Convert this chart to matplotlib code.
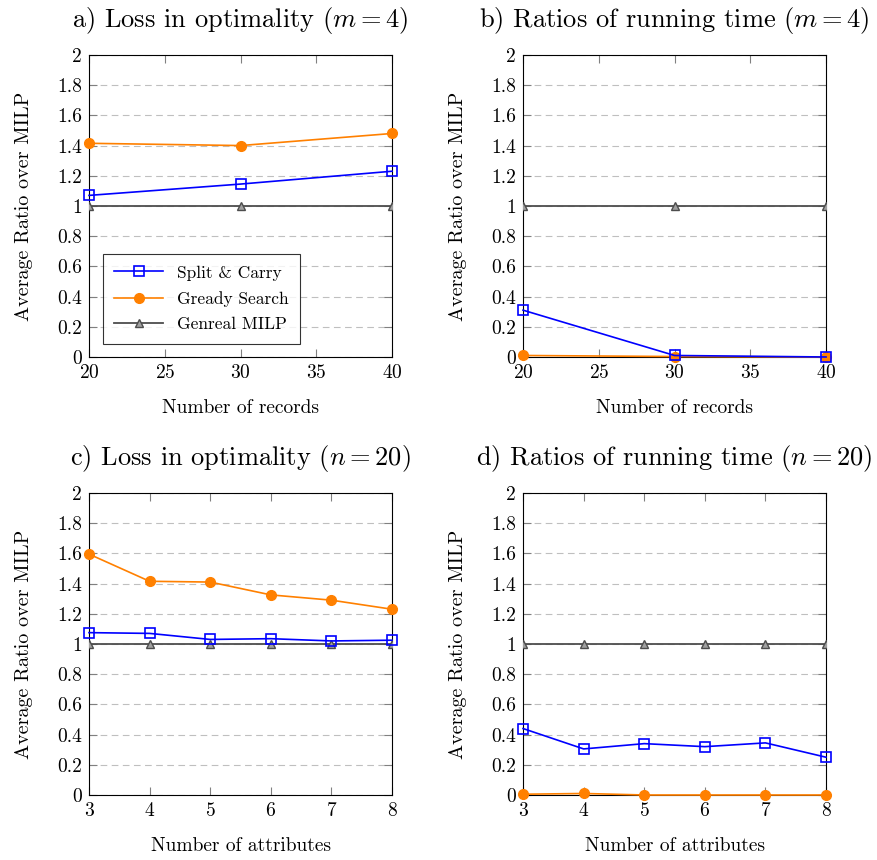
import matplotlib
matplotlib.use('Agg')
import matplotlib.pyplot as plt
import numpy as np

plt.rcParams['font.family'] = 'cmr10'
plt.rcParams['mathtext.fontset'] = 'cm'
plt.rcParams['axes.formatter.use_mathtext'] = True

records = [20, 30, 40]
attributes = [3, 4, 5, 6, 7, 8]

# loss in optimality, m = 4
loss_m_split = [1.07, 1.145, 1.23]
loss_m_greedy = [1.415, 1.40, 1.48]
loss_m_milp = [1, 1, 1]

# running time ratios, m = 4
time_m_split = [0.31, 0.01, 0.0]
time_m_greedy = [0.01, 0.003, 0.0]
time_m_milp = [1, 1, 1]

# loss in optimality, n = 20
loss_n_split = [1.075, 1.07, 1.03, 1.035, 1.02, 1.025]
loss_n_greedy = [1.595, 1.415, 1.41, 1.325, 1.29, 1.23]
loss_n_milp = [1, 1, 1, 1, 1, 1]

# running time ratios, n = 20
time_n_split = [0.44, 0.305, 0.34, 0.32, 0.345, 0.25]
time_n_greedy = [0.005, 0.01, 0.0, 0.0, 0.0, 0.0]
time_n_milp = [1, 1, 1, 1, 1, 1]

labels = ['Split & Carry', 'Gready Search', 'Genreal MILP']

fig = plt.figure(figsize=(8.77, 8.6), dpi=100)

W = 0.3455
H = 0.3512
positions = [
    [0.1015, 0.5849, W, H],
    [0.5964, 0.5849, W, H],
    [0.1015, 0.0756, W, H],
    [0.5964, 0.0756, W, H],
]
titles = [r'a) Loss in optimality ($m = 4$)',
          r'b) Ratios of running time ($m = 4$)',
          r'c) Loss in optimality ($n = 20$)',
          r'd) Ratios of running time ($n = 20$)']
panels = [
    (records, loss_m_split, loss_m_greedy, loss_m_milp, 'Number of records'),
    (records, time_m_split, time_m_greedy, time_m_milp, 'Number of records'),
    (attributes, loss_n_split, loss_n_greedy, loss_n_milp, 'Number of attributes'),
    (attributes, time_n_split, time_n_greedy, time_n_milp, 'Number of attributes'),
]

for i, (pos, title, (xs, split, greedy, milp, xlab)) in enumerate(zip(positions, titles, panels)):
    ax = fig.add_axes(pos)
    ax.plot(xs, milp, color='#4d4d4d', marker='^', ms=6, mfc='#a0a0a0',
            mec='#4d4d4d', mew=1.0, lw=1.3, label=labels[2], zorder=3)
    ax.plot(xs, greedy, color='#ff8000', marker='o', ms=7, lw=1.2,
            label=labels[1], zorder=4, clip_on=False)
    ax.plot(xs, split, color='blue', marker='s', ms=7, mfc='none', mew=1.2,
            lw=1.2, label=labels[0], zorder=5, clip_on=False)

    ax.set_xlim(xs[0], xs[-1])
    ax.set_ylim(0, 2)
    ax.set_yticks(np.arange(0, 2.01, 0.2))
    ax.set_yticklabels(['0', '0.2', '0.4', '0.6', '0.8', '1', '1.2', '1.4', '1.6', '1.8', '2'])
    if len(xs) == 3:
        ax.set_xticks([20, 25, 30, 35, 40])
    else:
        ax.set_xticks(attributes)
    ax.yaxis.grid(True, color='#bfbfbf', ls=(0, (6, 4)), lw=0.8)
    ax.set_axisbelow(True)
    ax.tick_params(direction='in', top=True, right=True, length=6,
                   color='#808080', labelsize=14, pad=5)
    for s in ax.spines.values():
        s.set_linewidth(0.8)
    ax.set_xlabel(xlab, fontsize=14, labelpad=12)
    ax.set_ylabel('Average Ratio over MILP', fontsize=14.5, labelpad=17)
    ax.set_title(title, fontsize=19, pad=20)

    if i == 0:
        h, l = ax.get_legend_handles_labels()
        leg = ax.legend(h[::-1], l[::-1], loc='lower left', bbox_to_anchor=(0.018, 0.015),
                        fontsize=12.5, frameon=True, fancybox=False, edgecolor='black',
                        handlelength=2.8, borderpad=0.65, labelspacing=0.6)
        leg.get_frame().set_linewidth(0.8)

fig.savefig('out.png', dpi=100)
